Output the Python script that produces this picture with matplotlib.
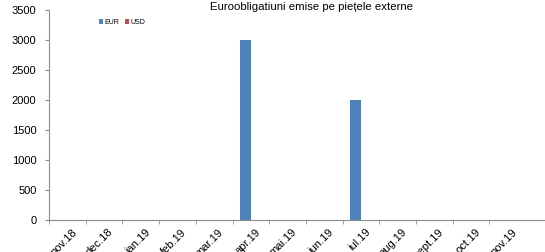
import matplotlib
matplotlib.use("Agg")
import matplotlib.pyplot as plt
import matplotlib.transforms as mtransforms
import numpy as np

plt.rcParams['font.family'] = ['Liberation Sans', 'DejaVu Sans']

categories = ["nov.18", "dec.18", "ian.19", "feb.19", "mar.19", "apr.19", "mai.19",
              "iun.19", "iul.19", "aug.19", "sept.19", "oct.19", "nov.19"]
eur = [0, 0, 0, 0, 0, 3000, 0, 0, 2000, 0, 0, 0, 0]
usd = [0, 0, 0, 0, 0, 0, 0, 0, 0, 0, 0, 0, 0]
title = "Euroobligatiuni emise pe piețele externe"

W, H = 545, 252
fig = plt.figure(figsize=(W / 100, H / 100), dpi=100)
left = 49 / W
bottom = (H - 220) / H
top = (H - 10) / H
ax = fig.add_axes([left, bottom, 1 - left, top - bottom])

x = np.arange(len(categories))
bw = 0.3
ax.bar(x - bw / 2, eur, width=bw, color="#4F81BD", label="EUR")
ax.bar(x + bw / 2, usd, width=bw, color="#C0504D", label="USD")

cat_px = 36.7
ax.set_xlim(-0.5, -0.5 + (W - 49) / cat_px)
ax.set_ylim(0, 3500)
ax.set_yticks(np.arange(0, 3501, 500))

ax.set_xticks(x)
ax.set_xticklabels(categories, rotation=45, ha="right", va="top", rotation_mode="anchor", fontsize=8)
ax.tick_params(axis="x", which="major", length=0, pad=5)
offset = mtransforms.ScaledTranslation(4 / 100, 0, fig.dpi_scale_trans)
for lab in ax.get_xticklabels():
    lab.set_transform(lab.get_transform() + offset)
ax.set_xticks(np.arange(-0.5, 12, 1.0), minor=True)
ax.tick_params(axis="x", which="minor", length=3, color="#8c8c8c", direction="out")
ax.tick_params(axis="y", length=3, color="#8c8c8c", labelsize=8, pad=6)

for s in ["top", "right"]:
    ax.spines[s].set_visible(False)
for s in ["left", "bottom"]:
    ax.spines[s].set_color("#8c8c8c")
    ax.spines[s].set_linewidth(0.8)

fig.text(312 / W, (H - 10) / H, title, ha="center", va="baseline", fontsize=8.2)

leg = ax.legend(loc="upper left", bbox_to_anchor=((96 - 49) / (W - 49), 1 - (16 - 10) / (220 - 10)),
                frameon=False, fontsize=5, ncol=2, handlelength=0.6, handleheight=0.6,
                handletextpad=0.2, columnspacing=0.8, borderaxespad=0)

fig.savefig("out.png", dpi=100)
